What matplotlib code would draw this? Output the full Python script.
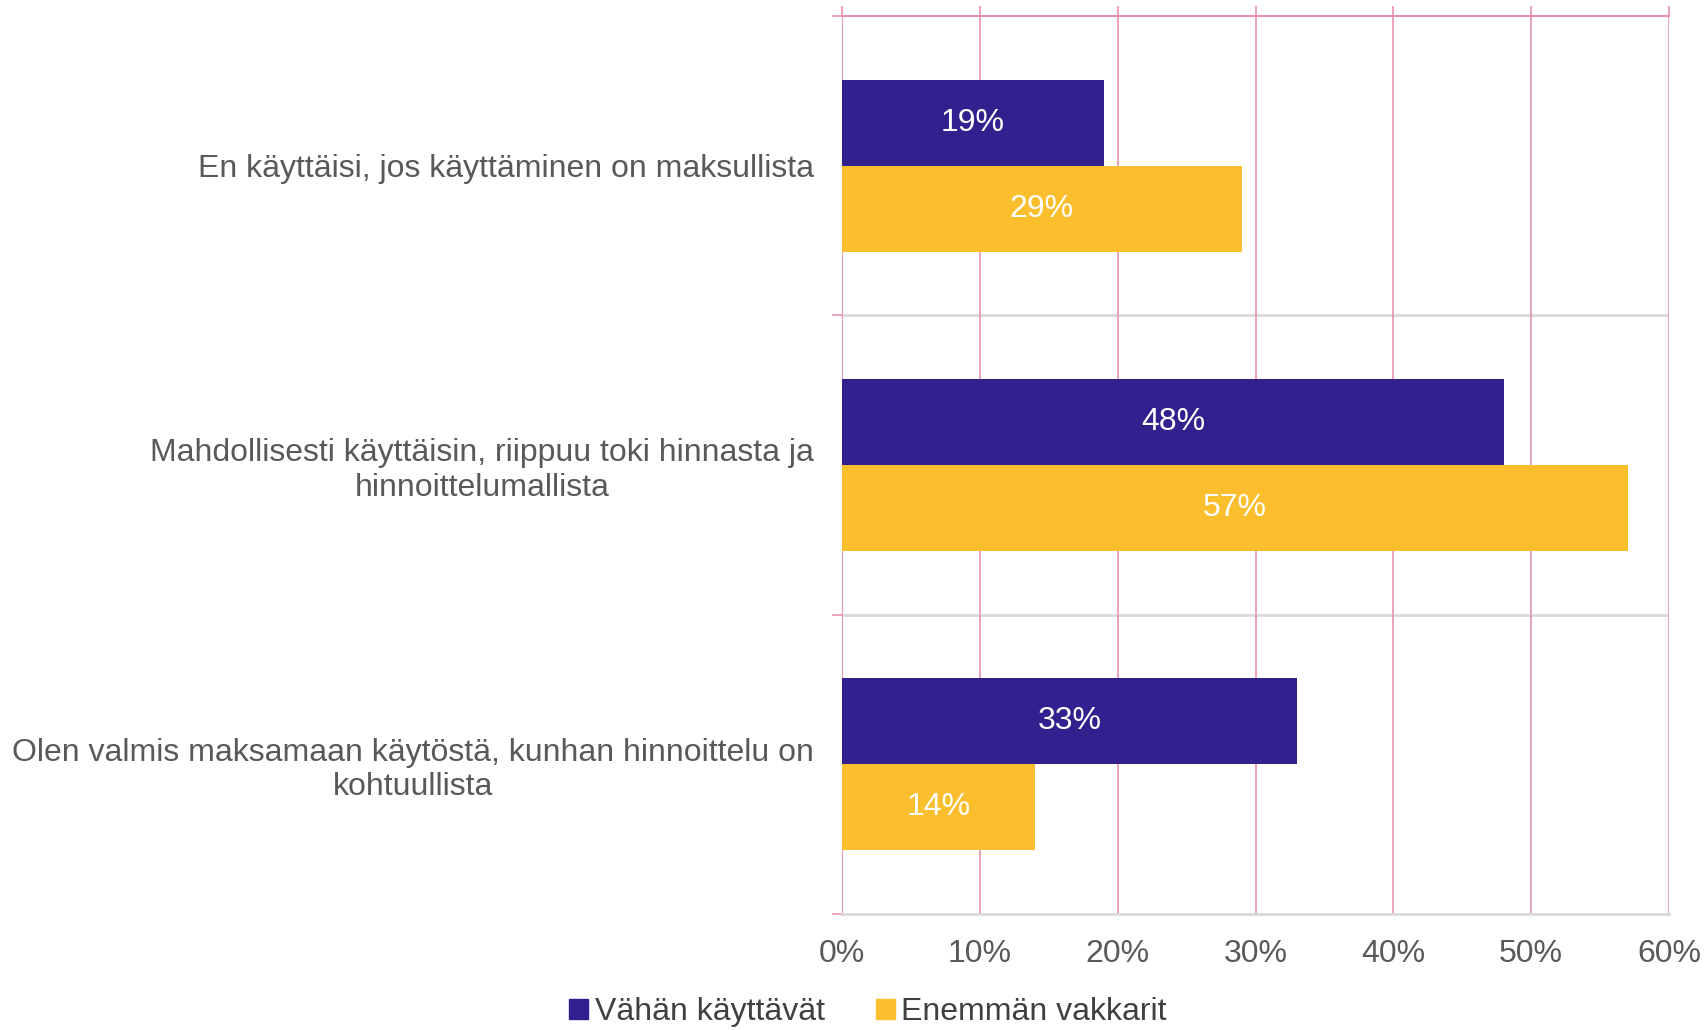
import matplotlib.pyplot as plt
import numpy as np
from matplotlib.patches import Patch

categories = [
    "En käyttäisi, jos käyttäminen on maksullista",
    "Mahdollisesti käyttäisin, riippuu toki hinnasta ja\nhinnoittelumallista",
    "Olen valmis maksamaan käytöstä, kunhan hinnoittelu on\nkohtuullista",
]
series_names = ["Vähän käyttävät", "Enemmän vakkarit"]
light_users = [19, 48, 33]
regulars = [29, 57, 14]
x_ticks = [0, 10, 20, 30, 40, 50, 60]

PURPLE = "#33208F"
YELLOW = "#FBBE2D"
PINK = "#E891B2"
GRID_GRAY = "#D9D9D9"
TEXT_GRAY = "#595959"

plt.rcParams["font.family"] = ["Liberation Sans", "DejaVu Sans"]

fig = plt.figure(figsize=(17.06, 10.30), dpi=100)
ax = fig.add_axes([0.4936, 0.1126, 0.4847, 0.8719])

y = np.arange(len(categories))
h = 0.2875
bars1 = ax.barh(y - h / 2, light_users, height=h, color=PURPLE, zorder=3)
bars2 = ax.barh(y + h / 2, regulars, height=h, color=YELLOW, zorder=3)

for bars in (bars1, bars2):
    ax.bar_label(bars, labels=[f"{b.get_width():.0f}%" for b in bars],
                 label_type="center", color="white", fontsize=23)

ax.set_xlim(0, 60)
ax.set_ylim(len(categories) - 0.5, -0.5)
ax.set_xticks(x_ticks)
ax.set_xticklabels([f"{t}%" for t in x_ticks])
ax.set_yticks(y)
ax.set_yticklabels(categories)
ax.set_yticks(np.arange(len(categories) + 1) - 0.5, minor=True)

ax.grid(axis="x", color=PINK, linewidth=1.2, zorder=0)
for yy in np.arange(1, len(categories)) - 0.5:
    ax.axhline(yy, color=GRID_GRAY, linewidth=2, zorder=1)

for side in ("left", "right"):
    ax.spines[side].set_visible(False)
ax.spines["top"].set_color(PINK)
ax.spines["top"].set_linewidth(1.5)
ax.spines["bottom"].set_color(GRID_GRAY)
ax.spines["bottom"].set_linewidth(2)

ax.axvline(0, color=PINK, linewidth=1.2, zorder=2)

ax.tick_params(axis="y", which="major", length=0, pad=20, labelsize=23, labelcolor=TEXT_GRAY)
ax.tick_params(axis="y", which="minor", length=7, color=PINK, width=1.2)
ax.tick_params(axis="x", bottom=False, top=True, length=7, color=PINK, width=1.2,
               pad=11, labelsize=23, labelcolor=TEXT_GRAY)
for lbl in ax.get_yticklabels():
    lbl.set_multialignment("center")

handles = [Patch(color=PURPLE), Patch(color=YELLOW)]
fig.legend(handles, series_names, loc="center", bbox_to_anchor=(868 / 1706, 1 - 1012 / 1030),
           ncol=2, frameon=False, fontsize=23, handlelength=0.6, handleheight=0.6,
           handletextpad=0.2, columnspacing=1.6, labelcolor="#404040")

fig.savefig("out.png", dpi=100)
